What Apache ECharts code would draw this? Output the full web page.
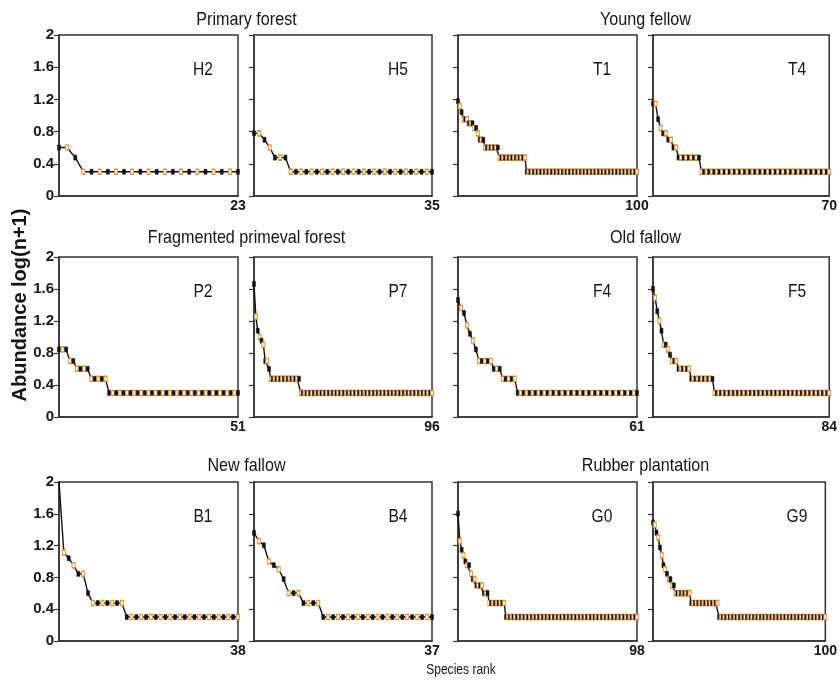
<!DOCTYPE html>
<html><head><meta charset="utf-8">
<script src="https://cdn.jsdelivr.net/npm/echarts@6/dist/echarts.min.js"></script>
<style>html,body{margin:0;padding:0;background:#fff}#c{width:840px;height:680px}</style>
</head><body><div id="c"></div>
<script>
const panelNames = ['H2','H5','T1','T4','P2','P7','F4','F5','B1','B4','G0','G9'];
const groupTitles = ['Primary forest','Young fellow','Fragmented primeval forest','Old fallow','New fallow','Rubber plantation'];
const yTicks = [0,0.4,0.8,1.2,1.6,2];
const xMaxLabels = [23,35,100,70,51,96,61,84,38,37,98,100];
const yTitle = 'Abundance log(n+1)';
const xTitle = 'Species rank';

const H2 = [0.602,0.602,0.477,
0.301,0.301,0.301,0.301,0.301,0.301,0.301,0.301,0.301,0.301,
0.301,0.301,0.301,0.301,0.301,0.301,0.301,0.301,0.301,0.301];
const H5 = [0.778,0.778,0.699,0.602,0.477,0.477,0.477,
0.301,0.301,0.301,0.301,0.301,0.301,0.301,0.301,0.301,0.301,
0.301,0.301,0.301,0.301,0.301,0.301,0.301,0.301,0.301,0.301,
0.301,0.301,0.301,0.301,0.301,0.301,0.301,0.301];
const T1 = [1.176,1.114,1.041,0.954,0.954,0.954,0.903,0.903,0.903,0.845,0.845,0.778,0.699,0.699,0.699,
0.602,0.602,0.602,0.602,0.602,0.602,0.602,0.602,
0.477,0.477,0.477,0.477,0.477,0.477,0.477,0.477,0.477,0.477,
0.477,0.477,0.477,0.477,0.477,
0.301,0.301,0.301,0.301,0.301,0.301,0.301,0.301,0.301,0.301,
0.301,0.301,0.301,0.301,0.301,0.301,0.301,0.301,0.301,0.301,
0.301,0.301,0.301,0.301,0.301,0.301,0.301,0.301,0.301,0.301,
0.301,0.301,0.301,0.301,0.301,0.301,0.301,0.301,0.301,0.301,
0.301,0.301,0.301,0.301,0.301,0.301,0.301,0.301,0.301,0.301,
0.301,0.301,0.301,0.301,0.301,0.301,0.301,0.301,0.301,0.301,
0.301,0.301];
const T4 = [1.146,1.146,0.954,0.845,0.778,0.778,0.699,0.699,0.602,0.602,
0.477,0.477,0.477,0.477,0.477,0.477,0.477,0.477,0.477,
0.301,0.301,0.301,0.301,0.301,0.301,0.301,0.301,0.301,0.301,
0.301,0.301,0.301,0.301,0.301,0.301,0.301,0.301,0.301,0.301,
0.301,0.301,0.301,0.301,0.301,0.301,0.301,0.301,0.301,0.301,
0.301,0.301,0.301,0.301,0.301,0.301,0.301,0.301,0.301,0.301,
0.301,0.301,0.301,0.301,0.301,0.301,0.301,0.301,0.301,0.301,
0.301];
const P2 = [0.845,0.845,0.845,0.699,0.699,
0.602,0.602,0.602,0.602,
0.477,0.477,0.477,0.477,0.477,
0.301,0.301,0.301,0.301,0.301,0.301,0.301,0.301,0.301,0.301,
0.301,0.301,0.301,0.301,0.301,0.301,0.301,0.301,0.301,0.301,
0.301,0.301,0.301,0.301,0.301,0.301,0.301,0.301,0.301,0.301,
0.301,0.301,0.301,0.301,0.301,0.301,0.301];
const P7 = [1.663,1.255,1.079,1.0,0.954,0.903,0.699,0.699,0.602,
0.477,0.477,0.477,0.477,0.477,0.477,0.477,0.477,0.477,0.477,
0.477,0.477,0.477,0.477,0.477,0.477,
0.301,0.301,0.301,0.301,0.301,0.301,0.301,0.301,0.301,0.301,
0.301,0.301,0.301,0.301,0.301,0.301,0.301,0.301,0.301,0.301,
0.301,0.301,0.301,0.301,0.301,0.301,0.301,0.301,0.301,0.301,
0.301,0.301,0.301,0.301,0.301,0.301,0.301,0.301,0.301,0.301,
0.301,0.301,0.301,0.301,0.301,0.301,0.301,0.301,0.301,0.301,
0.301,0.301,0.301,0.301,0.301,0.301,0.301,0.301,0.301,0.301,
0.301,0.301,0.301,0.301,0.301,0.301,0.301,0.301,0.301,0.301,
0.301];
const F4 = [1.462,1.362,1.301,1.146,1.041,0.954,0.845,
0.699,0.699,0.699,0.699,0.699,
0.602,0.602,0.602,
0.477,0.477,0.477,0.477,0.477,
0.301,0.301,0.301,0.301,0.301,0.301,0.301,0.301,0.301,0.301,
0.301,0.301,0.301,0.301,0.301,0.301,0.301,0.301,0.301,0.301,
0.301,0.301,0.301,0.301,0.301,0.301,0.301,0.301,0.301,0.301,
0.301,0.301,0.301,0.301,0.301,0.301,0.301,0.301,0.301,0.301,
0.301];
const F5 = [1.602,1.491,1.322,1.204,1.079,0.903,0.903,0.845,0.778,0.699,0.699,0.699,
0.602,0.602,0.602,0.602,0.602,0.602,
0.477,0.477,0.477,0.477,0.477,0.477,0.477,0.477,0.477,0.477,
0.477,
0.301,0.301,0.301,0.301,0.301,0.301,0.301,0.301,0.301,0.301,
0.301,0.301,0.301,0.301,0.301,0.301,0.301,0.301,0.301,0.301,
0.301,0.301,0.301,0.301,0.301,0.301,0.301,0.301,0.301,0.301,
0.301,0.301,0.301,0.301,0.301,0.301,0.301,0.301,0.301,0.301,
0.301,0.301,0.301,0.301,0.301,0.301,0.301,0.301,0.301,0.301,
0.301,0.301,0.301,0.301,0.301];
const B1 = [2.004,1.114,1.041,0.954,0.845,0.845,0.602,
0.477,0.477,0.477,0.477,0.477,0.477,0.477,
0.301,0.301,0.301,0.301,0.301,0.301,0.301,0.301,0.301,0.301,
0.301,0.301,0.301,0.301,0.301,0.301,0.301,0.301,0.301,0.301,
0.301,0.301,0.301,0.301];
const B4 = [1.362,1.255,1.204,1.0,0.954,0.903,0.778,0.602,0.602,0.602,
0.477,0.477,0.477,0.477,
0.301,0.301,0.301,0.301,0.301,0.301,0.301,0.301,0.301,0.301,
0.301,0.301,0.301,0.301,0.301,0.301,0.301,0.301,0.301,0.301,
0.301,0.301,0.301];
const G0 = [1.602,1.255,1.146,1.079,1.0,0.954,0.954,0.845,0.778,0.778,0.699,0.699,0.699,0.699,0.602,0.602,0.602,
0.477,0.477,0.477,0.477,0.477,0.477,0.477,0.477,0.477,
0.301,0.301,0.301,0.301,0.301,0.301,0.301,0.301,0.301,0.301,
0.301,0.301,0.301,0.301,0.301,0.301,0.301,0.301,0.301,0.301,
0.301,0.301,0.301,0.301,0.301,0.301,0.301,0.301,0.301,0.301,
0.301,0.301,0.301,0.301,0.301,0.301,0.301,0.301,0.301,0.301,
0.301,0.301,0.301,0.301,0.301,0.301,0.301,0.301,0.301,0.301,
0.301,0.301,0.301,0.301,0.301,0.301,0.301,0.301,0.301,0.301,
0.301,0.301,0.301,0.301,0.301,0.301,0.301,0.301,0.301,0.301,
0.301,0.301];
const G9 = [1.491,1.462,1.362,1.301,1.176,1.079,0.954,0.903,0.845,0.778,0.778,0.699,0.699,
0.602,0.602,0.602,0.602,0.602,0.602,0.602,0.602,0.602,
0.477,0.477,0.477,0.477,0.477,0.477,0.477,0.477,0.477,0.477,
0.477,0.477,0.477,0.477,0.477,0.477,
0.301,0.301,0.301,0.301,0.301,0.301,0.301,0.301,0.301,0.301,
0.301,0.301,0.301,0.301,0.301,0.301,0.301,0.301,0.301,0.301,
0.301,0.301,0.301,0.301,0.301,0.301,0.301,0.301,0.301,0.301,
0.301,0.301,0.301,0.301,0.301,0.301,0.301,0.301,0.301,0.301,
0.301,0.301,0.301,0.301,0.301,0.301,0.301,0.301,0.301,0.301,
0.301,0.301,0.301,0.301,0.301,0.301,0.301,0.301,0.301,0.301,
0.301,0.301];
const panelData = [H2,H5,T1,T4,P2,P7,F4,F5,B1,B4,G0,G9];

const colLeft = [59,254,458,653], colW = [179,178,179,178];
const rowTop = [35,257,482], rowH = [161,160,159];
const FONT = "'Liberation Sans',Arial,sans-serif";
const INK = '#151515', FRAME = '#333';

const grids = [], xAxes = [], yAxes = [], series = [], graphics = [];
panelData.forEach((vals, k) => {
  const r = Math.floor(k / 4), c = k % 4;
  const n = xMaxLabels[k];
  grids.push({left: colLeft[c], top: rowTop[r], width: colW[c], height: rowH[r],
    show: true, borderColor: FRAME, borderWidth: 1.5, backgroundColor: 'transparent'});
  xAxes.push({type: 'value', gridIndex: k, min: 0, max: n - 1, interval: n - 1,
    axisLine: {show: true, onZero: false, lineStyle: {color: FRAME, width: 1.5}},
    axisTick: {show: false}, splitLine: {show: false},
    axisLabel: {show: true, margin: 3, fontFamily: FONT, fontSize: 14, fontWeight: 'bold', color: INK,
      showMinLabel: false, showMaxLabel: true,
      formatter: v => (v === n - 1 ? String(n) : '')}});
  yAxes.push({type: 'value', gridIndex: k, min: yTicks[0], max: yTicks[yTicks.length - 1], interval: 0.4,
    axisLine: {show: true, lineStyle: {color: FRAME, width: 1.5}},
    axisTick: {show: true, length: 5, lineStyle: {color: FRAME, width: 1.2}},
    splitLine: {show: false},
    axisLabel: {show: c === 0, margin: 5, fontFamily: FONT, fontSize: 15, fontWeight: 'bold', color: INK}});
  series.push({type: 'line', xAxisIndex: k, yAxisIndex: k, animation: false,
    symbol: 'rect', symbolSize: [3, 5],
    lineStyle: {color: '#111', width: 1.4},
    data: vals.map((v, i) => ({value: [i, v],
      itemStyle: i % 2 ? {color: '#ffffff', borderColor: '#e8922a', borderWidth: 1.2}
                       : {color: '#111111', borderColor: '#111111', borderWidth: 0.5}}))});
  graphics.push({type: 'text', x: colLeft[c] + 144, y: rowTop[r] + 35, scaleX: 0.82,
    style: {text: panelNames[k], font: "19px " + FONT, fill: INK, textAlign: 'center', textVerticalAlign: 'middle'}});
});

const titleY = [20, 238, 466];
groupTitles.forEach((t, i) => {
  const r = Math.floor(i / 2), h = i % 2;
  const x = h === 0 ? (colLeft[0] + colLeft[1] + colW[1]) / 2 + 1 : (colLeft[2] + colLeft[3] + colW[3]) / 2 + 1;
  graphics.push({type: 'text', x: x, y: titleY[r], scaleX: 0.85,
    style: {text: t, font: "19px " + FONT, fill: INK, textAlign: 'center', textVerticalAlign: 'middle'}});
});
graphics.push({type: 'text', x: 20, y: 305, rotation: Math.PI / 2,
  style: {text: yTitle, font: "bold 20px " + FONT, fill: INK, textAlign: 'center', textVerticalAlign: 'middle'}});
graphics.push({type: 'text', x: 461, y: 670, scaleX: 0.86,
  style: {text: xTitle, font: "14px " + FONT, fill: INK, textAlign: 'center', textVerticalAlign: 'middle'}});

const chart = echarts.init(document.getElementById('c'), null, {renderer: 'canvas'});
chart.setOption({animation: false, backgroundColor: '#fff', grid: grids, xAxis: xAxes, yAxis: yAxes, series: series, graphic: graphics});
</script></body></html>
